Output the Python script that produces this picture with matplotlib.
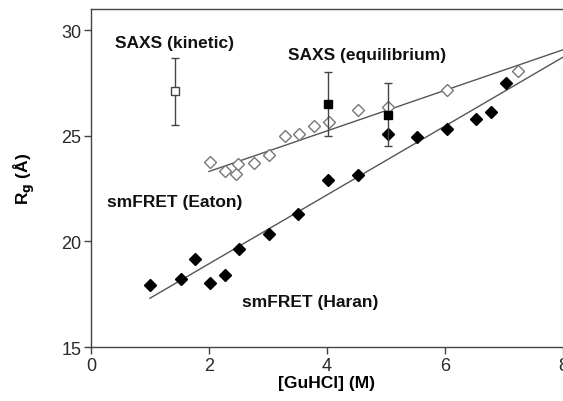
import numpy as np
import matplotlib
matplotlib.use('Agg')
import matplotlib.pyplot as plt

plt.rcParams['font.family'] = ['Liberation Sans', 'DejaVu Sans']

# smFRET (Eaton) - open diamonds
eaton_x = [2.02, 2.27, 2.45, 2.50, 2.76, 3.02, 3.29, 3.53, 3.78, 4.03, 4.53, 5.03, 6.03, 7.23]
eaton_y = [23.77, 23.35, 23.17, 23.65, 23.73, 24.10, 24.99, 25.10, 25.44, 25.63, 26.23, 26.35, 27.18, 28.05]

# smFRET (Haran) - filled diamonds
haran_x = [1.00, 1.52, 1.77, 2.02, 2.27, 2.51, 3.02, 3.51, 4.01, 4.53, 5.03, 5.52, 6.03, 6.52, 6.78, 7.03]
haran_y = [17.94, 18.20, 19.15, 18.03, 18.43, 19.64, 20.33, 21.32, 22.91, 23.13, 25.09, 24.94, 25.30, 25.80, 26.12, 27.48]

# SAXS (equilibrium) - filled squares
saxs_eq_x = [4.01, 5.03]
saxs_eq_y = [26.5, 26.0]
saxs_eq_err = [1.5, 1.5]

# SAXS (kinetic) - open square
saxs_kin_x = [1.42]
saxs_kin_y = [27.1]
saxs_kin_err = [1.6]

# linear fits: (slope, intercept, x start, x end)
eaton_fit = (0.96, 21.39, 2.0, 8.3)
haran_fit = (1.63, 15.68, 1.0, 8.3)

fig = plt.figure(figsize=(5.63, 4.02), dpi=100)
ax = fig.add_axes([0.1616, 0.1343, 0.8384, 0.8408])

for slope, icpt, x0, x1 in [eaton_fit, haran_fit]:
    xs = np.array([x0, x1])
    ax.plot(xs, slope * xs + icpt, color='#555555', lw=1.0, zorder=1)

ax.plot(eaton_x, eaton_y, 'D', ms=6.5, mfc='white', mec='#777777', mew=1.0, ls='none', zorder=3)
ax.plot(haran_x, haran_y, 'D', ms=6.5, mfc='black', mec='black', ls='none', zorder=3)
ax.errorbar(saxs_eq_x, saxs_eq_y, yerr=saxs_eq_err, fmt='s', ms=5.5, mfc='black', mec='black',
            ecolor='#444444', elinewidth=1.0, capsize=3, capthick=1.0, zorder=4)
ax.errorbar(saxs_kin_x, saxs_kin_y, yerr=saxs_kin_err, fmt='s', ms=5.5, mfc='white', mec='#444444',
            ecolor='#444444', elinewidth=1.0, capsize=3, capthick=1.0, zorder=4)

lab = dict(fontsize=12.5, fontweight='bold', color='#111111', va='center', ha='left')
ax.text(0.41, 29.43, 'SAXS (kinetic)', **lab)
ax.text(3.34, 28.87, 'SAXS (equilibrium)', **lab)
ax.text(0.27, 21.89, 'smFRET (Eaton)', **lab)
ax.text(2.56, 17.17, 'smFRET (Haran)', **lab)

ax.set_xlim(0, 8)
ax.set_ylim(15, 31)
ax.set_xticks([0, 2, 4, 6, 8])
ax.set_yticks([15, 20, 25, 30])
ax.tick_params(direction='out', length=5, width=1, color='#444444', labelsize=13,
               labelcolor='#2a2a2a', pad=2)
for side in ['left', 'bottom', 'top']:
    ax.spines[side].set_color('#444444')
    ax.spines[side].set_linewidth(1.0)
ax.spines['right'].set_visible(False)

ax.set_xlabel('[GuHCl] (M)', fontsize=12.5, fontweight='bold', labelpad=1)
ax.set_ylabel(r'R$_\mathbf{g}$ (Å)', fontsize=12.5, fontweight='bold')
ax.yaxis.set_label_coords(-0.115, 0.5)

plt.savefig('out.png', dpi=100)
